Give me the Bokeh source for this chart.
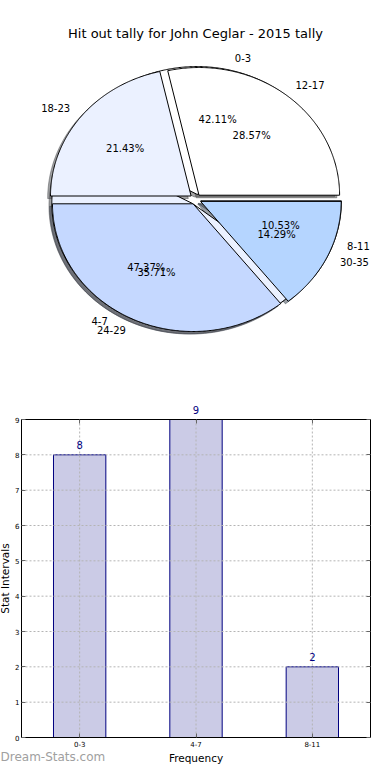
import numpy as np
from bokeh.plotting import figure
from bokeh.models import Label, LabelSet, Range1d, FixedTicker, ColumnDataSource, LinearAxis
from bokeh.layouts import column
from bokeh.embed import file_html
from bokeh.resources import INLINE
from bokeh.core.properties import value

# ---------------- data ----------------
title_text = "Hit out tally for John Ceglar - 2015 tally"
inner_labels = ["0-3", "4-7", "8-11"]
inner_values = [8, 9, 2]
outer_labels = ["12-17", "18-23", "24-29", "30-35"]
outer_values = [4, 3, 5, 2]
pie_colors = ["#ffffff", "#ebf1ff", "#c5d8ff", "#b5d5ff"]

bar_categories = ["0-3", "4-7", "8-11"]
bar_values = [8, 9, 2]
y_ticks = [0, 1, 2, 3, 4, 5, 6, 7, 8, 9]
watermark = "Dream-Stats.com"

# ---------------- layout / style constants ----------------
FONT = "DejaVu Sans"
W = 374
EXPLODE = 0.04
LABEL_R = 1.1
PCT_R = 0.6
SHADOW = -0.02
RX, RY = 140.6, 127.7           # pixels per unit radius
PIE_H = 386
CX_PX, CY_PX = 195.0, 198.7     # pie centre (from left / from top)


def darken(hexcol, rho=0.3):
    h = hexcol.lstrip("#")
    r, g, b = (int(h[i:i + 2], 16) for i in (0, 2, 4))
    return "#%02x%02x%02x" % (int(r * rho), int(g * rho), int(b * rho))


def pie_geometry(values):
    v = np.asarray(values, dtype=float)
    frac = v / v.sum()
    theta2 = np.cumsum(frac) * 360.0
    theta1 = theta2 - frac * 360.0
    mid = np.radians((theta1 + theta2) / 2.0)
    ox = EXPLODE * np.cos(mid)
    oy = EXPLODE * np.sin(mid)
    xs, ys = [], []
    for a0, a1, cx, cy in zip(theta1, theta2, ox, oy):
        t = np.radians(np.linspace(a0, a1, max(int((a1 - a0) * 2), 10)))
        xs.append(np.concatenate([[cx], cx + np.cos(t)]))
        ys.append(np.concatenate([[cy], cy + np.sin(t)]))
    return frac, mid, ox, oy, xs, ys


pie = figure(width=W, height=PIE_H, output_backend="svg", toolbar_location=None,
             x_range=Range1d(-CX_PX / RX, (W - CX_PX) / RX),
             y_range=Range1d(-(PIE_H - CY_PX) / RY, CY_PX / RY),
             x_axis_location=None, y_axis_location=None,
             min_border_left=0, min_border_right=0, min_border_top=0, min_border_bottom=0,
             outline_line_color=None)
pie.grid.visible = False

geoms = [pie_geometry(inner_values), pie_geometry(outer_values)]
label_sets = [inner_labels, outer_labels]

# shadows of both pies first
for frac, mid, ox, oy, xs, ys in geoms:
    cols = [darken(c) for c in pie_colors[:len(xs)]]
    pie.patches(xs=[x + SHADOW for x in xs], ys=[y + SHADOW for y in ys],
                fill_color=cols, fill_alpha=0.5, line_color=cols, line_alpha=0.5)

# wedges
for frac, mid, ox, oy, xs, ys in geoms:
    pie.patches(xs=xs, ys=ys, fill_color=pie_colors[:len(xs)],
                line_color="black", line_width=1)

# labels and percentages
for (frac, mid, ox, oy, xs, ys), labs in zip(geoms, label_sets):
    lx = ox + LABEL_R * np.cos(mid)
    ly = oy + LABEL_R * np.sin(mid)
    right = lx > 0
    for mask, align in ((right, "left"), (~right, "right")):
        if mask.any():
            pie.text(x=lx[mask], y=ly[mask], text=[l for l, m in zip(labs, mask) if m],
                     text_align=align, text_baseline="middle",
                     text_font=value(FONT), text_font_size="10px", text_color="black")
    px = ox + PCT_R * np.cos(mid)
    py = oy + PCT_R * np.sin(mid)
    pie.text(x=px, y=py, text=["%1.2f%%" % (100 * f) for f in frac],
             text_align="center", text_baseline="middle",
             text_font=value(FONT), text_font_size="10px", text_color="black")

pie.add_layout(Label(x=CX_PX, y=PIE_H - 33, x_units="screen", y_units="screen",
                     text=title_text, text_align="center", text_baseline="alphabetic",
                     text_font=FONT, text_font_size="13px", text_color="black"))

# ---------------- bar chart ----------------
BAR_H = 764 - PIE_H
TOP_PX = 419 - PIE_H           # y = 9 line, from top of bar canvas
BOT_PX = 737 - PIE_H           # y = 0 line
PX_PER_Y = (BOT_PX - TOP_PX) / 9.0
LEFT_SPINE, RIGHT_SPINE = 21.0, 370.0
PX_PER_X = (RIGHT_SPINE - LEFT_SPINE) / 3.0
X0_PX = LEFT_SPINE + 0.5 * PX_PER_X   # first category centre

idx = list(range(len(bar_categories)))
x_lo, x_hi = -0.5, len(bar_categories) - 0.5
y_lo, y_hi = y_ticks[0], y_ticks[-1]

bar = figure(width=W, height=BAR_H, output_backend="svg", toolbar_location=None,
             x_range=Range1d(-X0_PX / PX_PER_X, (W - X0_PX) / PX_PER_X),
             y_range=Range1d(-(BAR_H - BOT_PX) / PX_PER_Y, 9 + TOP_PX / PX_PER_Y),
             min_border_left=0, min_border_right=0, min_border_top=0, min_border_bottom=0,
             outline_line_color=None)
bar.grid.visible = False

src = ColumnDataSource(dict(x=idx, val=bar_values, lab=[str(v) for v in bar_values]))
bar.vbar(x="x", top="val", bottom=0, width=0.45, source=src,
         fill_color="#cbcbe6", line_color="#000080", line_width=1)

# dotted grid drawn over the bars, limited to the axes box
GRID = dict(line_color="#b4b4b4", line_dash="2 2", line_width=1)
bar.segment(x0=idx, y0=[y_lo] * len(idx), x1=idx, y1=[y_hi] * len(idx), **GRID)
bar.segment(x0=[x_lo] * len(y_ticks), y0=y_ticks, x1=[x_hi] * len(y_ticks), y1=y_ticks, **GRID)

bar.add_layout(LabelSet(x="x", y="val", text="lab", source=src, y_offset=6,
                        text_align="center", text_baseline="alphabetic",
                        text_font=value(FONT), text_font_size="10px",
                        text_color="#000080"))


def style_axis(ax):
    ax.major_label_text_font = FONT
    ax.major_label_text_font_size = "7px"
    ax.major_label_text_color = "black"
    ax.major_tick_in = 4
    ax.major_tick_out = 0
    ax.major_tick_line_color = "#666666"
    ax.minor_tick_line_color = None
    ax.axis_line_color = "black"
    ax.axis_line_width = 1
    ax.axis_label_text_font = FONT
    ax.axis_label_text_font_size = "10.5px"
    ax.axis_label_text_font_style = "normal"
    ax.axis_label_text_color = "black"


xa = bar.xaxis[0]
style_axis(xa)
xa.fixed_location = y_lo
xa.bounds = (x_lo, x_hi)
xa.ticker = FixedTicker(ticks=idx)
xa.major_label_overrides = {i: c for i, c in zip(idx, bar_categories)}
xa.major_label_standoff = 3
xa.axis_label = "Frequency"
xa.axis_label_standoff = 2

ya = bar.yaxis[0]
style_axis(ya)
ya.fixed_location = x_lo
ya.bounds = (y_lo, y_hi)
ya.ticker = FixedTicker(ticks=y_ticks)
ya.major_label_standoff = 2
ya.axis_label = "Stat Intervals"
ya.axis_label_standoff = 1

top_ax = LinearAxis(fixed_location=y_hi, bounds=(x_lo, x_hi), ticker=FixedTicker(ticks=idx))
style_axis(top_ax)
top_ax.major_label_text_color = None
bar.add_layout(top_ax, "above")

right_ax = LinearAxis(fixed_location=x_hi, bounds=(y_lo, y_hi), ticker=FixedTicker(ticks=y_ticks))
style_axis(right_ax)
right_ax.major_label_text_color = None
bar.add_layout(right_ax, "right")

bar.add_layout(Label(x=0, y=1, x_units="screen", y_units="screen",
                     text=watermark, text_align="left", text_baseline="bottom",
                     text_font=FONT, text_font_size="12px", text_color="#a0a0a0"))

layout = column(pie, bar, spacing=0)
open("out.html", "w").write(file_html(layout, INLINE))
